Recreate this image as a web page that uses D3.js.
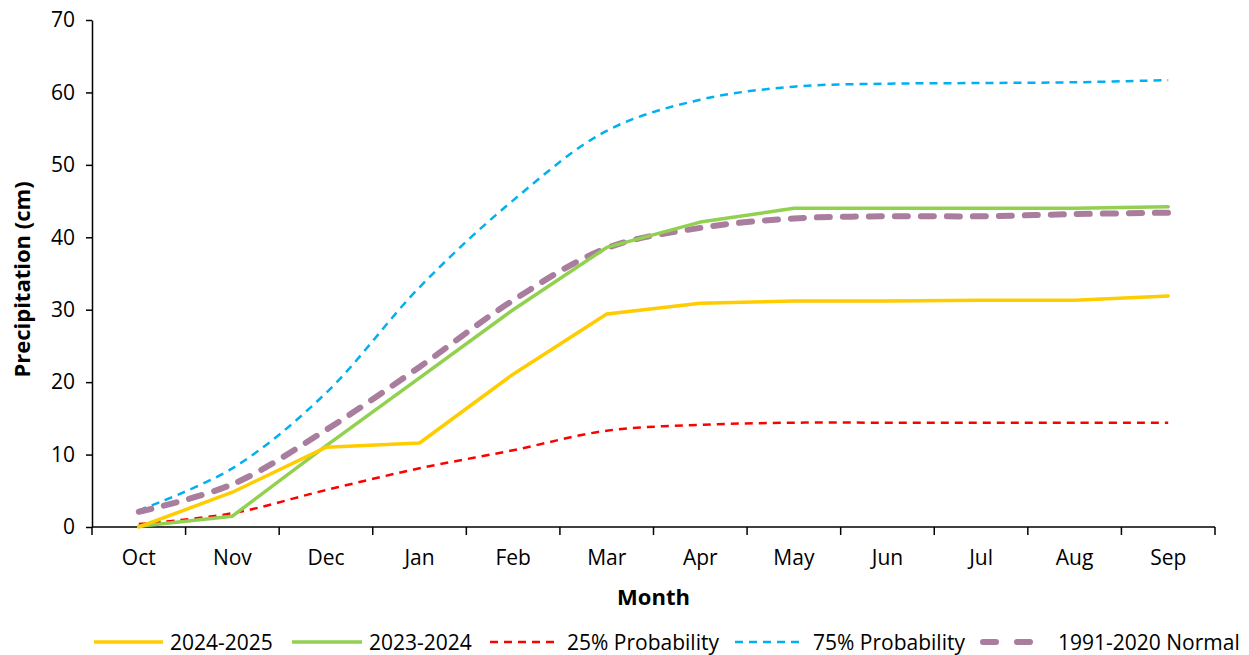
<!DOCTYPE html>
<html><head><meta charset="utf-8">
<script src="https://cdn.jsdelivr.net/npm/d3@7"></script>
<style>
html,body{margin:0;padding:0;background:#fff;}
svg text{font-family:"Open Sans",sans-serif;fill:#000;}
</style></head>
<body><svg id="chart" width="1249" height="655"></svg>
<script>
const months = ["Oct","Nov","Dec","Jan","Feb","Mar","Apr","May","Jun","Jul","Aug","Sep"];
const s2024_2025 = [0.0, 4.8, 11.0, 11.6, 21.1, 29.4, 30.9, 31.2, 31.2, 31.3, 31.3, 31.9];
const s2023_2024 = [0.1, 1.5, 11.2, 20.6, 30.0, 38.6, 42.1, 44.0, 44.0, 44.0, 44.0, 44.2];
const p25 = [0.4, 1.9, 5.1, 8.1, 10.6, 13.3, 14.1, 14.4, 14.4, 14.4, 14.4, 14.4];
const p75 = [2.3, 8.1, 18.5, 33.1, 45.1, 54.7, 59.0, 60.8, 61.2, 61.3, 61.4, 61.7];
const normal = [2.1, 5.9, 13.4, 22.1, 31.3, 38.5, 41.3, 42.6, 42.9, 42.9, 43.2, 43.4];
const yTicks = [0,10,20,30,40,50,60,70];
const seriesNames = ["2024-2025","2023-2024","25% Probability","75% Probability","1991-2020 Normal"];

(function(){
const svg = d3.select("#chart");
const pL = 92, pR = 1215, pT = 20, pB = 527;
const x = d3.scaleBand().domain(months).range([pL, pR]).padding(0);
const y = d3.scaleLinear().domain([0,70]).range([pB, pT]);
const cx = m => x(m) + x.bandwidth()/2;

const yAxis = svg.append("g").attr("transform",`translate(${pL},0)`)
  .call(d3.axisLeft(y).tickValues(yTicks).tickSize(6).tickSizeOuter(0).tickPadding(11));
const xAxis = svg.append("g").attr("transform",`translate(0,${pB})`)
  .call(d3.axisBottom(x).tickSize(0).tickPadding(23));
const bounds = months.map(m => x(m)).concat([pR]);
xAxis.selectAll(".bt").data(bounds).enter().append("line")
  .attr("x1",d=>d).attr("x2",d=>d).attr("y1",0).attr("y2",8)
  .attr("stroke","#000").attr("stroke-width",1.5);
[yAxis,xAxis].forEach(a=>{
  a.select(".domain").attr("stroke","#000").attr("stroke-width",1.5);
  a.selectAll(".tick line").attr("stroke","#000").attr("stroke-width",1.5);
  a.selectAll(".tick text").style("font-size","21px").style("font-family","'Open Sans',sans-serif").attr("fill","#000");
});
xAxis.select(".domain").attr("d",`M${pL},0H${pR}`);

svg.append("text").attr("transform",`translate(30,${(pT+pB)/2+6}) rotate(-90)`)
  .attr("text-anchor","middle").style("font-size","22px").style("font-weight","bold").text("Precipitation (cm)");
svg.append("text").attr("x",(pL+pR)/2).attr("y",605)
  .attr("text-anchor","middle").style("font-size","22px").style("font-weight","bold").text("Month");

const straight = d3.line().x((d,i)=>cx(months[i])).y(d=>y(d));
const smooth = d3.line().x((d,i)=>cx(months[i])).y(d=>y(d)).curve(d3.curveCatmullRom.alpha(0.5));

const styles = [
  {data:s2024_2025, color:"#FFCC00", w:3.5, dash:null, cap:"round", gen:straight},
  {data:s2023_2024, color:"#92D050", w:3.5, dash:null, cap:"round", gen:straight},
  {data:p25, color:"#FF0000", w:2.5, dash:"8,6", cap:"butt", gen:smooth},
  {data:p75, color:"#00B0F0", w:2.5, dash:"8,6", cap:"butt", gen:smooth},
  {data:normal, color:"#A97D9D", w:6, dash:"13,13", cap:"round", gen:smooth}
];
[3,2,4,1,0].forEach(i=>{
  const s = styles[i];
  svg.append("path").attr("d", s.gen(s.data)).attr("fill","none")
    .attr("stroke",s.color).attr("stroke-width",s.w)
    .attr("stroke-dasharray",s.dash).attr("stroke-linecap",s.cap).attr("stroke-linejoin","round");
});

const legY = 650;
const legItems = [
  {x1:94,x2:163,tx:170},
  {x1:292,x2:362,tx:369},
  {x1:490,x2:557,tx:567},
  {x1:735,x2:802,tx:813},
  {x1:983,x2:1038,tx:1058}
];
legItems.forEach((L,i)=>{
  const s = styles[i];
  svg.append("line").attr("x1",L.x1).attr("x2",L.x2).attr("y1",legY-8).attr("y2",legY-8)
    .attr("stroke",s.color).attr("stroke-width",i<2?3.5:(i===4?6:2.5))
    .attr("stroke-dasharray", i===4 ? "13,21" : s.dash).attr("stroke-linecap", i===4?"round":"butt");
  svg.append("text").attr("x",L.tx).attr("y",legY).style("font-size","21px").text(seriesNames[i]);
});
})();
</script></body></html>
